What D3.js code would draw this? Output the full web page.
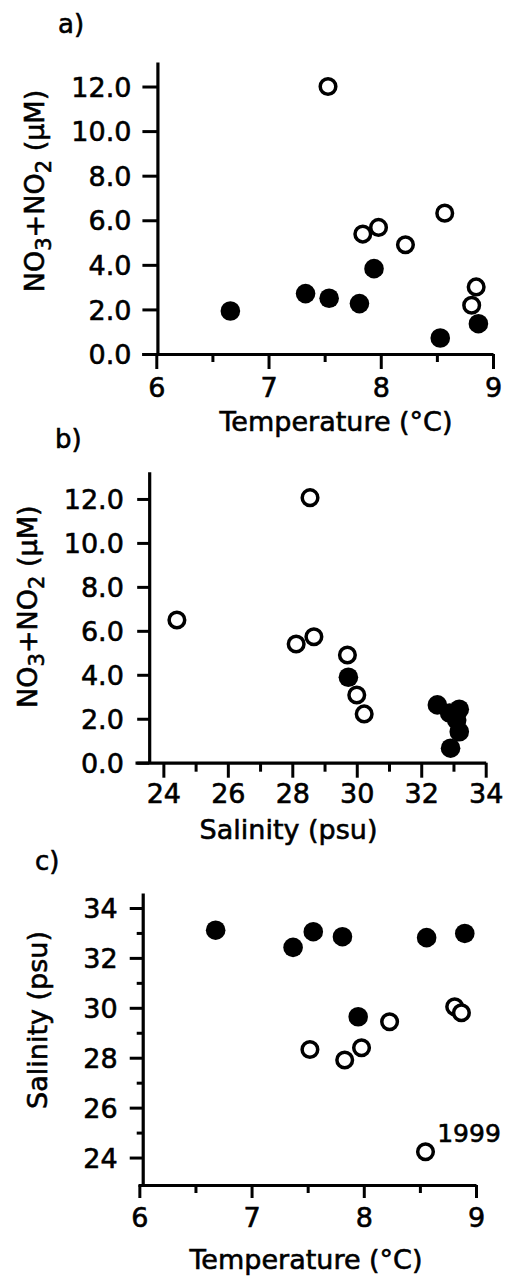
<!DOCTYPE html>
<html>
<head>
<meta charset="utf-8">
<script src="https://cdn.jsdelivr.net/npm/d3@7"></script>
<style>
  html, body { margin: 0; padding: 0; background: #fff; }
  svg { display: block; font-family: "DejaVu Sans", sans-serif; }
  svg text { stroke: #000; stroke-width: 0.6px; }
</style>
</head>
<body>
<svg id="chart" width="505" height="1277"></svg>
<script>
'use strict';

// ─── Data ─────────────────────────────────────────────────────────────────

// a) temperature (°C) vs NO3+NO2 (µM)
const aOpen   = [[7.53, 12.0], [7.84, 5.38], [7.98, 5.68], [8.22, 4.90], [8.57, 6.32], [8.85, 3.01], [8.81, 2.19]];
const aFilled = [[6.66, 1.93], [7.33, 2.71], [7.54, 2.50], [7.81, 2.26], [7.94, 3.83], [8.53, 0.72], [8.87, 1.36]];

// b) salinity (psu) vs NO3+NO2 (µM)
const bOpen   = [[28.55, 12.06], [24.42, 6.49], [28.12, 5.40], [28.67, 5.73], [29.71, 4.90], [30.00, 3.08], [30.23, 2.22]];
const bFilled = [[29.74, 3.89], [32.50, 2.63], [33.18, 2.43], [32.88, 2.26], [33.10, 1.94], [33.18, 1.41], [32.91, 0.66]];

// c) temperature (°C) vs salinity (psu)
const cOpen   = [[7.52, 28.33], [7.83, 27.91], [7.98, 28.40], [8.23, 29.44], [8.55, 24.23], [8.81, 30.04], [8.87, 29.80]];
const cFilled = [[6.68, 33.11], [7.37, 32.42], [7.55, 33.05], [7.81, 32.85], [7.95, 29.64], [8.56, 32.81], [8.90, 32.98]];
const cNotes  = [{ x: 8.55, y: 24.23, text: '1999' }];

// tick values
const tempTicks  = [6, 7, 8, 9];
const tempMinor  = [6.5, 7.5, 8.5];
const salTicks   = [24, 26, 28, 30, 32, 34];
const salMinor   = [25, 27, 29, 31, 33];
const no3Ticks   = [0, 2, 4, 6, 8, 10, 12];

// ─── Panel layout ─────────────────────────────────────────────────────────

const FONT = 27;

const panels = [
  {
    label: 'a)', labelPos: [58, 32.5],
    open: aOpen, filled: aFilled, notes: [],
    xDomain: [5.87, 9], xRange: [141.7, 493],
    yDomain: [0, 13.1], yRange: [354, 62], yAxisAt: 6.01,
    xTicks: tempTicks, xMinor: tempMinor, xFmt: d3.format('d'),
    yTicks: no3Ticks, yMinor: [], yFmt: d3.format('.1f'),
    xTickLen: 15, xMinorLen: 8, yTickLen: 15, yMinorLen: 0,
    xLabelY: 43, yLabelX: 26,
    xTitle: 'Temperature (°C)', xTitlePos: [336, 431],
    yTitle: 'no3', yTitlePos: [43.5, 191]
  },
  {
    label: 'b)', labelPos: [55, 448],
    open: bOpen, filled: bFilled, notes: [],
    xDomain: [23.12, 34], xRange: [135, 485.7],
    yDomain: [0, 13.24], yRange: [762.7, 471.7], yAxisAt: 23.56,
    xTicks: salTicks, xMinor: salMinor, xFmt: d3.format('d'),
    yTicks: no3Ticks, yMinor: [], yFmt: d3.format('.1f'),
    xTickLen: 15, xMinorLen: 9, yTickLen: 12, yMinorLen: 0,
    xLabelY: 40.6, yLabelX: 25.3,
    xTitle: 'Salinity (psu)', xTitlePos: [288.5, 839],
    yTitle: 'no3', yTitlePos: [36.7, 606.7]
  },
  {
    label: 'c)', labelPos: [35, 870],
    open: cOpen, filled: cFilled, notes: cNotes,
    xDomain: [5.988, 9], xRange: [138, 476],
    yDomain: [22.9, 34.6], yRange: [1185, 893], yAxisAt: 6.03,
    xTicks: tempTicks, xMinor: tempMinor, xFmt: d3.format('d'),
    yTicks: salTicks, yMinor: salMinor, yFmt: d3.format('d'),
    xTickLen: 13, xMinorLen: 8, yTickLen: 13, yMinorLen: 6,
    xLabelY: 41.7, yLabelX: 25,
    xTitle: 'Temperature (°C)', xTitlePos: [306, 1269],
    yTitle: 'Salinity (psu)', yTitlePos: [46.7, 1020]
  }
];

// ─── Drawing ──────────────────────────────────────────────────────────────

const svg = d3.select('#chart');
svg.append('rect').attr('width', 505).attr('height', 1277).attr('fill', '#fff');

function styleAxis(g) {
  g.attr('font-family', null).attr('font-size', FONT);
  g.select('.domain').attr('stroke', '#000').attr('stroke-width', 3.2);
  g.selectAll('.tick line').attr('stroke', '#000').attr('stroke-width', 3);
  g.selectAll('.tick text').attr('fill', '#000');
}

function yTitle(g, p) {
  const t = g.append('text')
    .attr('transform', `translate(${p.yTitlePos[0]},${p.yTitlePos[1]}) rotate(-90)`)
    .attr('text-anchor', 'middle').attr('font-size', FONT).attr('fill', '#000');
  if (p.yTitle !== 'no3') { t.text(p.yTitle); return; }
  // NO3+NO2 (µM) with subscripts
  t.append('tspan').text('NO');
  t.append('tspan').attr('font-size', 21).attr('dy', 7).text('3');
  t.append('tspan').attr('dy', -7).text('+NO');
  t.append('tspan').attr('font-size', 21).attr('dy', 7).text('2');
  t.append('tspan').attr('dy', -7).text(' (µM)');
}

function drawPanel(p) {
  const g = svg.append('g');
  const x = d3.scaleLinear().domain(p.xDomain).range(p.xRange);
  const y = d3.scaleLinear().domain(p.yDomain).range(p.yRange);
  const y0 = p.yRange[0];
  const xAxisX = x(p.yAxisAt);

  // minor ticks
  g.append('g').attr('transform', `translate(0,${y0})`)
    .call(d3.axisBottom(x).tickValues(p.xMinor).tickSize(p.xMinorLen).tickFormat(''))
    .call(styleAxis).call(a => a.select('.domain').remove());
  if (p.yMinor.length) {
    g.append('g').attr('transform', `translate(${xAxisX},0)`)
      .call(d3.axisLeft(y).tickValues(p.yMinor).tickSize(p.yMinorLen).tickFormat(''))
      .call(styleAxis).call(a => a.select('.domain').remove());
  }

  // major axes
  g.append('g').attr('transform', `translate(0,${y0})`)
    .call(d3.axisBottom(x).tickValues(p.xTicks).tickSize(p.xTickLen).tickSizeOuter(0).tickFormat(p.xFmt))
    .call(styleAxis)
    .call(a => a.selectAll('.tick text').attr('y', p.xLabelY).attr('dy', null));

  g.append('g').attr('transform', `translate(${xAxisX},0)`)
    .call(d3.axisLeft(y).tickValues(p.yTicks).tickSize(p.yTickLen).tickSizeOuter(0).tickFormat(p.yFmt))
    .call(styleAxis)
    .call(a => a.selectAll('.tick text').attr('x', -p.yLabelX).attr('dy', '0.36em'));

  // titles
  g.append('text').attr('x', p.xTitlePos[0]).attr('y', p.xTitlePos[1])
    .attr('text-anchor', 'middle').attr('font-size', FONT).attr('fill', '#000')
    .text(p.xTitle);
  yTitle(g, p);

  g.append('text').attr('x', p.labelPos[0]).attr('y', p.labelPos[1])
    .attr('font-size', 26).attr('fill', '#000').text(p.label);

  // points: open first, filled on top
  g.selectAll('circle.open').data(p.open).join('circle')
    .attr('class', 'open')
    .attr('cx', d => x(d[0])).attr('cy', d => y(d[1])).attr('r', 7.8)
    .attr('fill', '#fff').attr('stroke', '#000').attr('stroke-width', 3.5);
  g.selectAll('circle.filled').data(p.filled).join('circle')
    .attr('class', 'filled')
    .attr('cx', d => x(d[0])).attr('cy', d => y(d[1])).attr('r', 9.8)
    .attr('fill', '#000');

  g.selectAll('text.note').data(p.notes).join('text')
    .attr('class', 'note')
    .attr('x', d => x(d.x) + 11.7).attr('y', d => y(d.y) - 10)
    .attr('font-size', 25).attr('fill', '#000')
    .text(d => d.text);
}

panels.forEach(drawPanel);
</script>
</body>
</html>
